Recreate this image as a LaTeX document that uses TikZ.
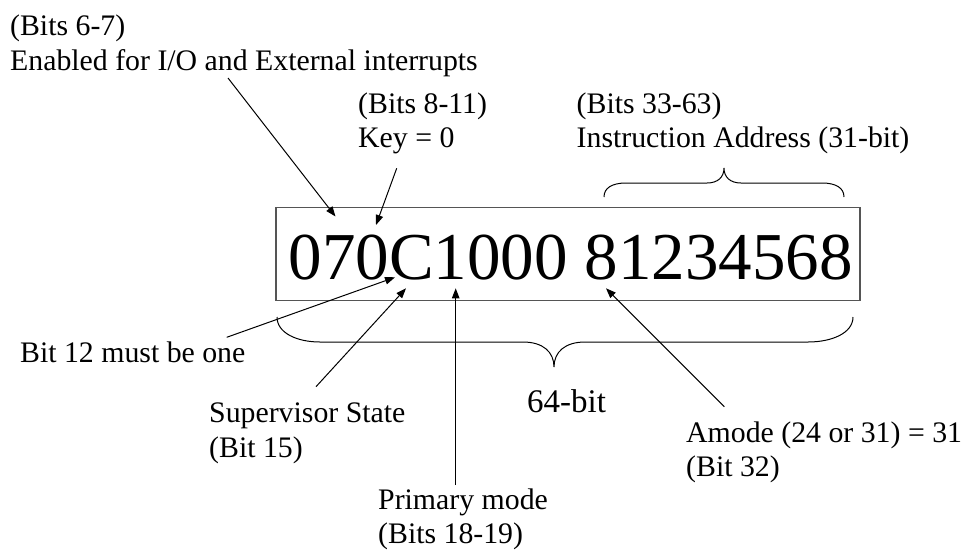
\documentclass[tikz,border=0pt]{standalone}
\usepackage{fontspec}
\setmainfont{Liberation Serif}
\usetikzlibrary{arrows.meta}
\definecolor{boxgray}{HTML}{555555}
\begin{document}
\begin{tikzpicture}[x=1pt,y=-1pt,
  lbl/.style={inner sep=0pt, anchor=base west, align=left, font=\fontsize{29.8}{34.5}\selectfont},
  bignum/.style={inner sep=0pt, anchor=base west, font=\fontsize{67}{70}\selectfont},
  sizelbl/.style={inner sep=0pt, anchor=base west, font=\fontsize{33}{36}\selectfont},
  frame/.style={draw=boxgray, line width=1.5pt, inner sep=0pt},
  ptr/.style={line width=1pt, -{Triangle[length=10pt,width=7.5pt]}},
  brc/.style={line width=1pt},
  ]
\fill[white] (0,0) rectangle (962,550);
\useasboundingbox (0,0) rectangle (962,550);

% main box and word
\node[frame, minimum width=584pt, minimum height=92.6pt] (box) at (568,254) {};
\node[bignum] (word) at (288.4,279.3) {070C1000 81234568};

% labels (base anchor = baseline of the last line)
\node[lbl] (l67) at (10,70) {(Bits 6-7)\\Enabled for I/O and External interrupts};
\node[lbl] (l811) at (358,147.5) {(Bits 8-11)\\Key = 0};
\node[lbl] (l3363) at (576.5,147.5) {(Bits 33-63)\\Instruction Address (31-bit)};
\node[lbl] (l12) at (20,362.7) {Bit 12 must be one};
\node[lbl] (l15) at (209,457) {Supervisor State\\(Bit 15)};
\node[lbl] (l1819) at (378,543.5) {Primary mode\\(Bits 18-19)};
\node[lbl] (l32) at (686,476.5) {Amode (24 or 31) = 31\\(Bit 32)};
\node[sizelbl] (l64) at (527,412) {64-bit};

% braces
\draw[brc] (604,197) .. controls (604,188) and (612,183) .. (626,183) -- (707,183)
  .. controls (718,183) and (724,177) .. (724,168)
  .. controls (724,177) and (730,183) .. (741,183) -- (822,183)
  .. controls (836,183) and (844,188) .. (844,197);
\draw[brc] (277,317) .. controls (277,333) and (297,342) .. (320,342) -- (523,342)
  .. controls (543,342) and (554,352) .. (554,367)
  .. controls (554,352) and (565,342) .. (585,342) -- (808,342)
  .. controls (832,342) and (853,333) .. (853,317);

% arrow end points
\coordinate (t67) at (228,78);
\coordinate (h67) at (335.5,216.5);
\coordinate (t811) at (396.7,168.3);
\coordinate (h811) at (376,225);
\coordinate (t12) at (226.7,337.3);
\coordinate (h12) at (395,277.3);
\coordinate (t15) at (316,386.7);
\coordinate (h15) at (406,288.3);
\coordinate (t1819) at (455.7,485);
\coordinate (h1819) at (455.7,288.3);
\coordinate (t32) at (724.3,406.7);
\coordinate (h32) at (606,288.3);

\draw[ptr] (t67) -- (h67);
\draw[ptr] (t811) -- (h811);
\draw[ptr] (t12) -- (h12);
\draw[ptr] (t15) -- (h15);
\draw[ptr] (t1819) -- (h1819);
\draw[ptr] (t32) -- (h32);
\end{tikzpicture}
\end{document}
